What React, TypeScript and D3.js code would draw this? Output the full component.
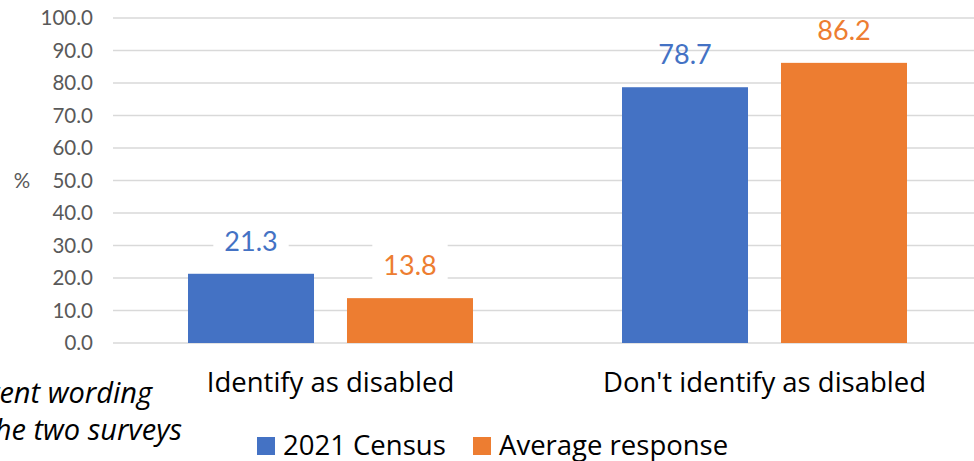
import { useEffect, useRef } from "react";
import * as d3 from "d3";

const categories = ["Identify as disabled", "Don't identify as disabled"];
const seriesNames = ["2021 Census", "Average response"];
const census2021 = [21.3, 78.7];
const averageResponse = [13.8, 86.2];
const yTicks = [0, 10, 20, 30, 40, 50, 60, 70, 80, 90, 100];
const noteLines = ["Note: different wording", "used in the two surveys"];

const colors = ["#4472C4", "#ED7D31"];
const FONT = "Lato, 'Open Sans', sans-serif";
const TEXT_FONT = "'Open Sans', Lato, sans-serif";

const App = () => {
  const svgRef = useRef<SVGSVGElement>(null);

  useEffect(() => {
    const w = 974;
    const h = 461;
    const svg = d3.select(svgRef.current).attr("width", w).attr("height", h);
    svg.selectAll("*").remove();

    const series = [census2021, averageResponse];

    const y = d3.scaleLinear().domain([0, 100]).range([343, 18]);
    const x0 = d3.scaleBand().domain(categories).range([113.5, 981.5]).padding(0);
    const x1 = d3
      .scaleBand()
      .domain(seriesNames)
      .range([0, x0.bandwidth()])
      .paddingInner(0.2075)
      .paddingOuter(0.4686);

    // gridlines
    svg
      .append("g")
      .selectAll("line")
      .data(yTicks)
      .join("line")
      .attr("x1", 113)
      .attr("x2", w)
      .attr("y1", (d) => y(d))
      .attr("y2", (d) => y(d))
      .attr("stroke", "#d9d9d9")
      .attr("stroke-width", 1.5);

    // y tick labels
    svg
      .append("g")
      .selectAll("text")
      .data(yTicks)
      .join("text")
      .attr("x", 93)
      .attr("y", (d) => y(d))
      .attr("dy", "0.36em")
      .attr("text-anchor", "end")
      .attr("font-family", FONT)
      .attr("font-size", 20.5)
      .attr("fill", "#595959")
      .text((d) => d.toFixed(1));

    svg
      .append("text")
      .attr("x", 22)
      .attr("y", y(50))
      .attr("dy", "0.36em")
      .attr("text-anchor", "middle")
      .attr("font-family", FONT)
      .attr("font-size", 20.5)
      .attr("fill", "#595959")
      .text("%");

    // bars
    const groups = svg
      .append("g")
      .selectAll("g")
      .data(categories)
      .join("g")
      .attr("transform", (d) => `translate(${x0(d)},0)`);

    groups
      .selectAll("rect")
      .data((_, i) => seriesNames.map((s, j) => ({ s, j, v: series[j][i] })))
      .join("rect")
      .attr("x", (d) => x1(d.s) || 0)
      .attr("y", (d) => y(d.v))
      .attr("width", x1.bandwidth())
      .attr("height", (d) => y(0) - y(d.v))
      .attr("fill", (d) => colors[d.j]);

    // data labels with white boxes
    const labels = groups
      .selectAll("g.lbl")
      .data((_, i) => seriesNames.map((s, j) => ({ s, j, v: series[j][i] })))
      .join("g")
      .attr("class", "lbl")
      .attr(
        "transform",
        (d) => `translate(${(x1(d.s) || 0) + x1.bandwidth() / 2},${y(d.v) - 33})`
      );
    const rects = labels.append("rect").attr("fill", "white");
    const texts = labels
      .append("text")
      .attr("text-anchor", "middle")
      .attr("dy", "0.36em")
      .attr("font-family", FONT)
      .attr("font-size", 27)
      .attr("fill", (d) => colors[d.j])
      .text((d) => d.v.toFixed(1));
    texts.each(function (_, i) {
      const tw = (this as SVGTextElement).getComputedTextLength();
      d3.select(rects.nodes()[i])
        .attr("x", -tw / 2 - 11)
        .attr("width", tw + 22)
        .attr("y", -22)
        .attr("height", 44);
    });

    // category labels
    svg
      .append("g")
      .selectAll("text")
      .data(categories)
      .join("text")
      .attr("x", (d) => (x0(d) || 0) + x0.bandwidth() / 2)
      .attr("y", 392)
      .attr("text-anchor", "middle")
      .attr("font-family", TEXT_FONT)
      .attr("font-size", 27.5)
      .attr("fill", "#000")
      .text((d) => d);

    // note (cut off at left edge, as in the source)
    svg
      .append("g")
      .selectAll("text")
      .data(noteLines)
      .join("text")
      .attr("x", (_, i) => [152, 182][i])
      .attr("y", (_, i) => [403, 440][i])
      .attr("text-anchor", "end")
      .attr("font-family", TEXT_FONT)
      .attr("font-style", "italic")
      .attr("font-size", 29)
      .attr("fill", "#000")
      .text((d) => d);

    // legend
    const legendX = [257, 473];
    const legend = svg
      .append("g")
      .selectAll("g")
      .data(seriesNames)
      .join("g")
      .attr("transform", (_, i) => `translate(${legendX[i]},437)`);
    legend
      .append("rect")
      .attr("width", 18)
      .attr("height", 18)
      .attr("fill", (_, i) => colors[i]);
    legend
      .append("text")
      .attr("x", 26)
      .attr("y", 18)
      .attr("font-family", TEXT_FONT)
      .attr("font-size", 27.5)
      .attr("fill", "#000")
      .text((d) => d);

    return () => {
      svg.selectAll("*").remove();
    };
  }, []);

  return (
    <div>
      <svg
        ref={svgRef}
        style={{ position: "absolute", left: 0, top: 0, display: "block" }}
      />
    </div>
  );
};

export default App;
